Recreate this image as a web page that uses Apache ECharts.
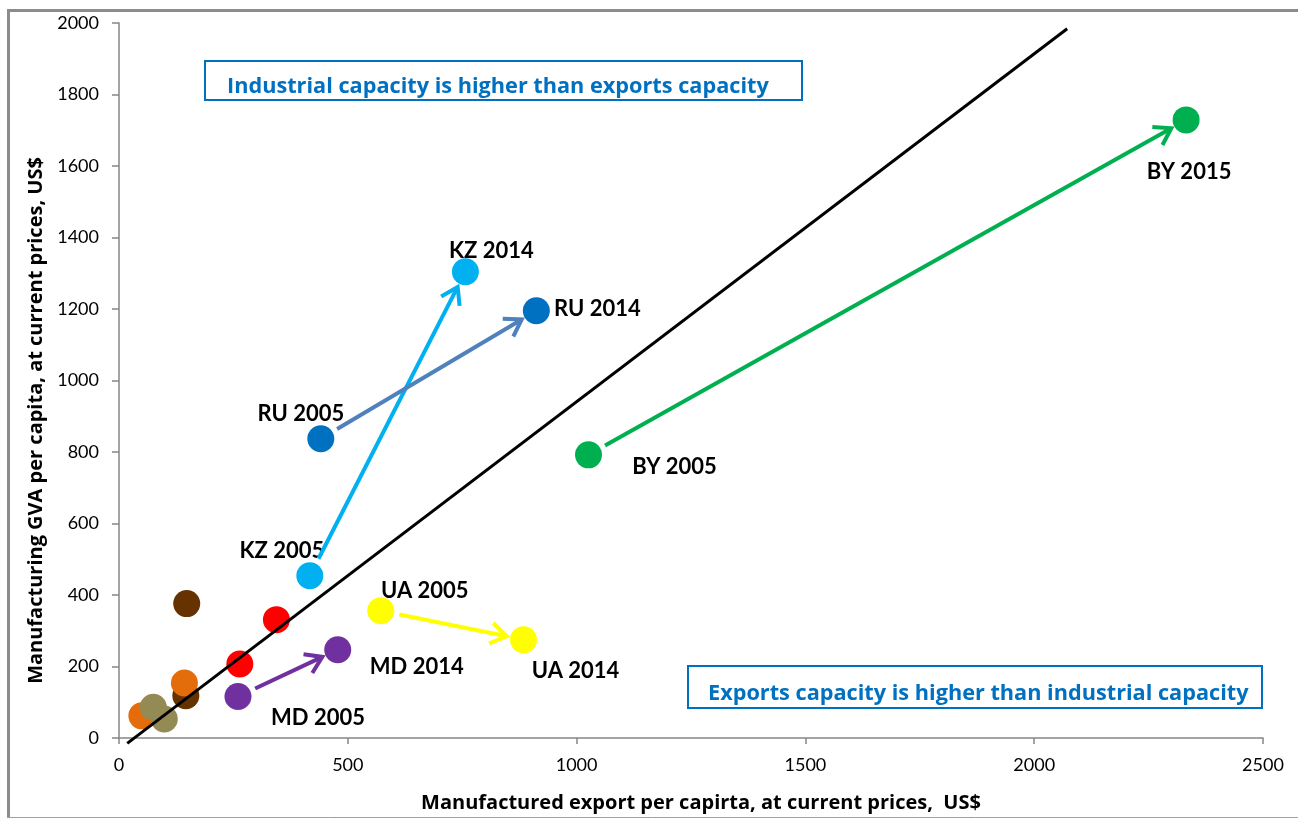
<!DOCTYPE html>
<html>
<head>
<meta charset="utf-8">
<title>Manufacturing GVA vs manufactured export per capita</title>
<script src="https://cdn.jsdelivr.net/npm/echarts@6/dist/echarts.min.js"></script>
<style>
  html, body { margin: 0; padding: 0; background: #fff; }
  #chart { width: 1298px; height: 820px; }
</style>
</head>
<body>
<div id="chart"></div>
<script>
// Labelled country-year observations (US$ per capita, current prices)
const labeledNames = ['BY 2005', 'BY 2015', 'KZ 2005', 'KZ 2014', 'RU 2005', 'RU 2014', 'UA 2005', 'UA 2014', 'MD 2005', 'MD 2014'];
const labeledX = [1026, 2332, 417, 757, 441, 912, 572, 884, 260, 478];   // manufactured export per capita
const labeledY = [792, 1729, 454, 1304, 837, 1195, 356, 275, 116, 247];  // manufacturing GVA per capita

// Unlabelled observations, grouped by marker colour
const redX = [344, 264];     const redY = [331, 207];
const brownX = [148, 146];   const brownY = [376, 118];
const orangeX = [143, 50];   const orangeY = [154, 62];
const oliveX = [75, 99];     const oliveY = [86, 53];

// Movement arrows between the two years of each country
const arrowFrom = ['KZ 2005', 'RU 2005', 'BY 2005', 'UA 2005', 'MD 2005'];
const arrowTo = ['KZ 2014', 'RU 2014', 'BY 2015', 'UA 2014', 'MD 2014'];

// Reference line separating the two capacity regimes
const refLineX = [18, 2072];
const refLineY = [-15, 1984];

// Axis ticks
const xTicks = { min: 0, max: 2500, interval: 500 };
const yTicks = { min: 0, max: 2000, interval: 200 };

// ---- styling ----
const countryColor = { BY: '#00B050', KZ: '#00B0F0', RU: '#0070C0', UA: '#FFFF00', MD: '#7030A0' };
const arrowColor = { BY: '#00B050', KZ: '#00B0F0', RU: '#4F81BD', UA: '#FFFF00', MD: '#7030A0' };
// label offsets (px) from the marker centre
const labelOffset = {
  'BY 2005': [86, 12], 'BY 2015': [3, 52], 'KZ 2005': [-28, -25], 'KZ 2014': [26, -21],
  'RU 2005': [-20, -25], 'RU 2014': [61, -2], 'UA 2005': [44, -20], 'UA 2014': [52, 31],
  'MD 2005': [80, 21], 'MD 2014': [79, 17]
};
const FONT = 'Lato, "Open Sans", sans-serif';
const FONT_WIDE = '"Open Sans", Lato, sans-serif';
const AXIS_GREY = '#868686';
const MARK = 27;

const labeledData = labeledNames.map((name, i) => ({
  name: name,
  value: [labeledX[i], labeledY[i]],
  itemStyle: { color: countryColor[name.slice(0, 2)], opacity: 1 },
  label: { offset: labelOffset[name] }
}));

const zip = (xs, ys) => xs.map((x, i) => [x, ys[i]]);

const arrowData = arrowFrom.map((from, i) => {
  const a = labeledNames.indexOf(from);
  const b = labeledNames.indexOf(arrowTo[i]);
  return {
    value: [labeledX[a], labeledY[a], labeledX[b], labeledY[b]],
    itemStyle: { color: arrowColor[from.slice(0, 2)] }
  };
});

function renderArrow(params, api) {
  const p1 = api.coord([api.value(0), api.value(1)]);
  const p2 = api.coord([api.value(2), api.value(3)]);
  const dx = p2[0] - p1[0], dy = p2[1] - p1[1];
  const len = Math.hypot(dx, dy);
  const ux = dx / len, uy = dy / len;
  const gapStart = 19, gapEnd = 17;
  const s = [p1[0] + ux * gapStart, p1[1] + uy * gapStart];
  const e = [p2[0] - ux * gapEnd, p2[1] - uy * gapEnd];
  const head = 19, ang = 33 * Math.PI / 180;
  const bx = -ux, by = -uy;
  const rot = (t) => [e[0] + head * (bx * Math.cos(t) - by * Math.sin(t)),
                      e[1] + head * (bx * Math.sin(t) + by * Math.cos(t))];
  const color = api.visual('color');
  return {
    type: 'group',
    children: [
      { type: 'line', shape: { x1: s[0], y1: s[1], x2: e[0], y2: e[1] },
        style: { stroke: color, lineWidth: 4 } },
      { type: 'polyline', shape: { points: [rot(ang), e, rot(-ang)] },
        style: { stroke: color, lineWidth: 4, fill: null, lineJoin: 'miter' } }
    ]
  };
}

const chart = echarts.init(document.getElementById('chart'), null, { renderer: 'canvas' });

const plainScatter = (data, color) => ({
  type: 'scatter', data: data, symbolSize: MARK, z: 2,
  itemStyle: { color: color, opacity: 1 }, emphasis: { disabled: true }
});

chart.setOption({
  animation: false,
  backgroundColor: '#ffffff',
  textStyle: { fontFamily: FONT },
  grid: { left: 119, right: 35, top: 23, bottom: 82, containLabel: false },
  xAxis: {
    type: 'value', min: xTicks.min, max: xTicks.max, interval: xTicks.interval,
    name: 'Manufactured export per capirta, at current prices,  US$',
    nameLocation: 'middle', nameGap: 55,
    nameTextStyle: { fontFamily: FONT_WIDE, fontWeight: 'bold', fontSize: 20, color: '#000', padding: [0, 0, 0, 20] },
    axisLine: { onZero: false, lineStyle: { color: AXIS_GREY, width: 1.5 } },
    axisTick: { show: true, length: 6, lineStyle: { color: AXIS_GREY, width: 1.5 } },
    axisLabel: { fontFamily: FONT, fontSize: 18, color: '#000', margin: 18, formatter: (v) => String(v) },
    splitLine: { show: false }
  },
  yAxis: {
    type: 'value', min: yTicks.min, max: yTicks.max, interval: yTicks.interval,
    name: 'Manufacturing GVA per capita, at current prices, US$',
    nameLocation: 'middle', nameGap: 71, nameRotate: 90,
    nameTextStyle: { fontFamily: FONT_WIDE, fontWeight: 'bold', fontSize: 20, color: '#000', padding: [0, 80, 0, 0] },
    axisLine: { show: true, onZero: false, lineStyle: { color: AXIS_GREY, width: 1.5 } },
    axisTick: { show: true, length: 7, lineStyle: { color: AXIS_GREY, width: 1.5 } },
    axisLabel: { fontFamily: FONT, fontSize: 18, color: '#000', margin: 20, formatter: (v) => String(v) },
    splitLine: { show: false }
  },
  series: [
    plainScatter(zip(orangeX, orangeY).slice(1), '#E46C0A'),
    plainScatter(zip(oliveX, oliveY), '#948A54'),
    plainScatter(zip(brownX, brownY), '#663300'),
    plainScatter(zip(orangeX, orangeY).slice(0, 1), '#E46C0A'),
    plainScatter(zip(redX, redY), '#FF0000'),
    {
      type: 'scatter', data: labeledData, symbolSize: MARK, z: 2,
      itemStyle: { opacity: 1 },
      emphasis: { disabled: true },
      label: {
        show: true, position: 'inside', formatter: '{b}',
        fontFamily: FONT, fontWeight: 'bold', fontSize: 22, color: '#000',
        textBorderWidth: 0
      }
    },
    {
      type: 'line', data: zip(refLineX, refLineY), symbol: 'none', clip: false, z: 4,
      lineStyle: { color: '#000', width: 3 }, emphasis: { disabled: true }
    },
    {
      type: 'custom', data: arrowData, renderItem: renderArrow, z: 4,
      encode: { x: [0, 2], y: [1, 3] }, clip: false
    }
  ],
  graphic: [
    // outer frame
    { type: 'line', shape: { x1: 8.5, y1: 9, x2: 8.5, y2: 818 }, style: { stroke: '#8c8c8c', lineWidth: 3 } },
    { type: 'line', shape: { x1: 7, y1: 10.5, x2: 1298, y2: 10.5 }, style: { stroke: '#8c8c8c', lineWidth: 3 } },
    { type: 'line', shape: { x1: 7, y1: 817.5, x2: 1298, y2: 817.5 }, style: { stroke: '#a0a0a0', lineWidth: 1 } },
    // region notes
    { type: 'rect', shape: { x: 205, y: 61, width: 597, height: 39 },
      style: { fill: '#ffffff', stroke: '#0070C0', lineWidth: 2 }, z: 10 },
    { type: 'text', x: 227, y: 87, z: 11,
      style: { text: 'Industrial capacity is higher than exports capacity', fill: '#0070C0',
               font: 'bold 21.7px ' + FONT_WIDE, verticalAlign: 'middle', align: 'left' } },
    { type: 'rect', shape: { x: 688, y: 666, width: 574, height: 42 },
      style: { fill: '#ffffff', stroke: '#0070C0', lineWidth: 2 }, z: 10 },
    { type: 'text', x: 708, y: 694, z: 11,
      style: { text: 'Exports capacity is higher than industrial capacity', fill: '#0070C0',
               font: 'bold 21.7px ' + FONT_WIDE, verticalAlign: 'middle', align: 'left' } }
  ]
});
</script>
</body>
</html>
